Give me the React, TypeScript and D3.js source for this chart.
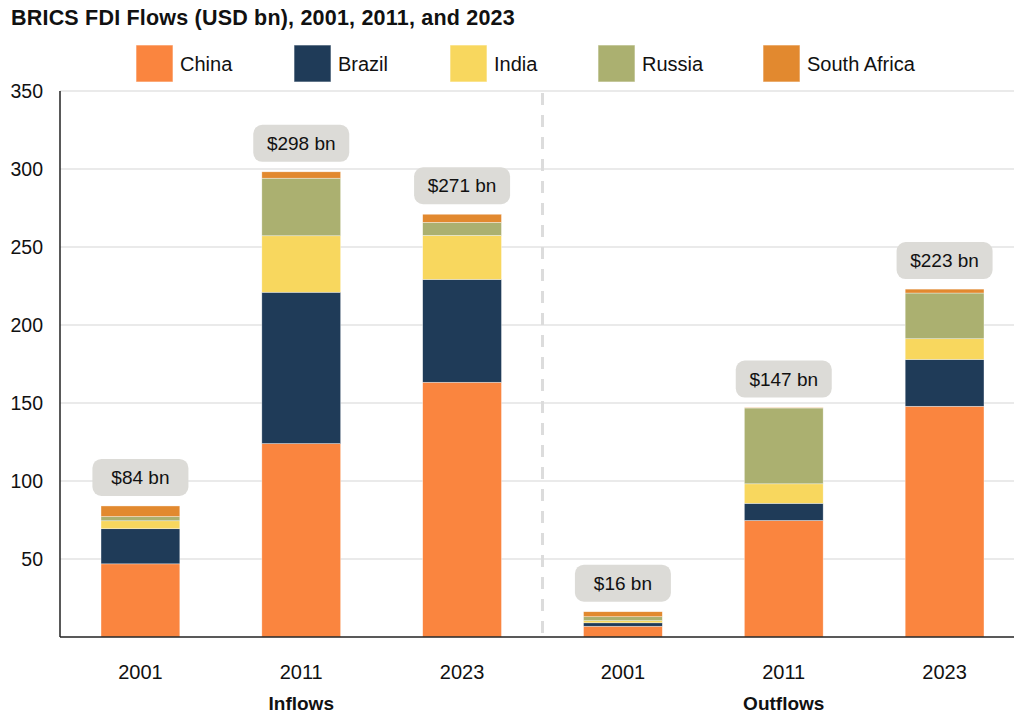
import React from "react";
import * as d3 from "d3";

// values in USD bn
const groups = ["Inflows", "Outflows"];
const years = ["2001", "2011", "2023"];
const countries = ["China", "Brazil", "India", "Russia", "South Africa"];
const china = [46.9, 124.0, 163.3, 6.9, 74.7, 147.9];
const brazil = [22.5, 97.0, 65.9, 2.2, 11.0, 30.0];
const india = [5.1, 36.2, 28.2, 1.4, 12.5, 13.3];
const russia = [2.7, 36.9, 8.4, 2.5, 48.6, 29.3];
const southAfrica = [6.8, 4.1, 5.2, 3.2, 0.3, 2.5];
const yTicks = [50, 100, 150, 200, 250, 300, 350];

const colors = ["#fa853f", "#1f3b58", "#f8d75e", "#abb070", "#e2892f"];
const FONT = "Liberation Sans, Arial, Helvetica, sans-serif";

export default function App() {
  const width = 1014;
  const height = 715;
  const margin = { top: 91, left: 60, bottom: 78 };

  const rows = groups.flatMap((g, gi) =>
    years.map((yr, yi) => {
      const i = gi * years.length + yi;
      return {
        key: `${g}-${yr}`,
        year: yr,
        group: g,
        China: china[i],
        Brazil: brazil[i],
        India: india[i],
        Russia: russia[i],
        "South Africa": southAfrica[i],
      };
    })
  );

  const stacked = d3.stack<any>().keys(countries)(rows);

  const xScale = d3
    .scaleBand<string>()
    .domain(rows.map((d) => d.key))
    .range([margin.left, 1025])
    .padding(0);

  const yScale = d3
    .scaleLinear()
    .domain([0, 350])
    .range([height - margin.bottom, margin.top]);

  const barW = xScale.bandwidth() * 0.49;
  const total = (d: any) => d3.sum(countries, (c) => d[c]);

  const legendX = [136, 294, 450, 598, 763];
  const dividerX = margin.left + xScale.step() * 3;

  return (
    <svg width={width} height={height} style={{ position: "absolute", left: 0, top: 0 }} fontFamily={FONT}>
      <rect width={width} height={height} fill="#fff" />
      <text x={11} y={25} fontSize={21.5} fontWeight="bold" fill="#111" letterSpacing={0.2}>
        BRICS FDI Flows (USD bn), 2001, 2011, and 2023
      </text>

      {/* legend */}
      {countries.map((c, i) => (
        <g key={c} transform={`translate(${legendX[i]},45)`}>
          <rect width={37} height={37} fill={colors[i]} stroke="#fff" strokeOpacity={0.6} />
          <text x={44} y={26} fontSize={20} fill="#111">
            {c}
          </text>
        </g>
      ))}

      {/* gridlines + y labels */}
      {yTicks.map((t) => (
        <g key={t}>
          <line x1={margin.left} x2={width} y1={yScale(t)} y2={yScale(t)} stroke="#e3e3e3" strokeWidth={1.5} />
          <text x={43} y={yScale(t) + 7} textAnchor="end" fontSize={19.5} fill="#111">
            {t}
          </text>
        </g>
      ))}

      {/* divider */}
      <line
        x1={dividerX}
        x2={dividerX}
        y1={margin.top + 2}
        y2={yScale(0)}
        stroke="#dcdcdc"
        strokeWidth={3}
        strokeDasharray="12 10"
      />

      {/* bars */}
      {stacked.map((layer, li) => (
        <g key={layer.key} fill={colors[li]}>
          {layer.map((seg: any) => (
            <rect
              key={seg.data.key}
              x={xScale(seg.data.key)! + (xScale.bandwidth() - barW) / 2}
              width={barW}
              y={yScale(seg[1])}
              height={Math.max(0, yScale(seg[0]) - yScale(seg[1]))}
              stroke="#fff"
              strokeWidth={0.6}
              strokeOpacity={0.6}
            />
          ))}
        </g>
      ))}

      {/* value labels */}
      {rows.map((d) => {
        const cx = xScale(d.key)! + xScale.bandwidth() / 2;
        const top = yScale(total(d));
        return (
          <g key={d.key}>
            <rect x={cx - 48} y={top - 47} width={96} height={37} rx={9} fill="#dcdbd7" />
            <text x={cx} y={top - 22} textAnchor="middle" fontSize={19} fill="#111">
              ${Math.round(total(d))} bn
            </text>
          </g>
        );
      })}

      {/* axes */}
      <line x1={margin.left} x2={margin.left} y1={margin.top} y2={yScale(0)} stroke="#222" strokeWidth={1.5} />
      <line x1={margin.left} x2={width} y1={yScale(0)} y2={yScale(0)} stroke="#222" strokeWidth={1.5} />

      {rows.map((d) => (
        <text
          key={d.key}
          x={xScale(d.key)! + xScale.bandwidth() / 2}
          y={679}
          textAnchor="middle"
          fontSize={20}
          fill="#111"
        >
          {d.year}
        </text>
      ))}
      {groups.map((g, gi) => (
        <text
          key={g}
          x={margin.left + xScale.step() * (gi * 3 + 1.5)}
          y={710}
          textAnchor="middle"
          fontSize={19}
          fontWeight="bold"
          fill="#111"
        >
          {g}
        </text>
      ))}
    </svg>
  );
}
